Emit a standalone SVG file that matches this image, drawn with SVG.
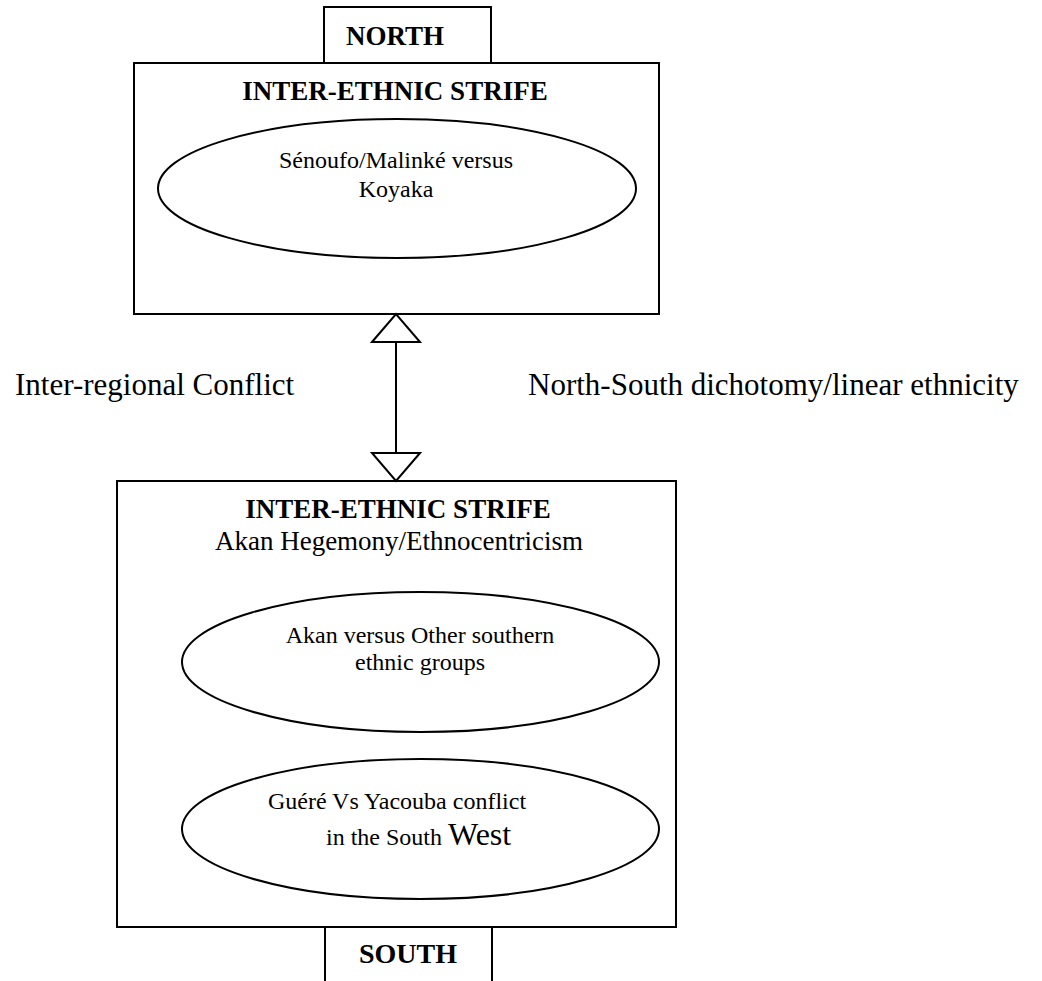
<svg xmlns="http://www.w3.org/2000/svg" width="1042" height="981" viewBox="0 0 1042 981">
  <style>
    .box { fill: #fff; stroke: #000; stroke-width: 2; }
    .ell { fill: #fff; stroke: #000; stroke-width: 2; }
    .t { font-family: "Liberation Serif", "Times New Roman", serif; fill: #000; }
    .b { font-weight: bold; font-size: 27px; }
    .r { font-size: 24px; }
    .side { font-size: 31px; }
    .conn { stroke: #000; stroke-width: 2; fill: none; }
  </style>
  <defs>
    <marker id="openTri" viewBox="-1 -26 31 52" refX="0" refY="0" markerWidth="31" markerHeight="52" markerUnits="userSpaceOnUse" orient="auto-start-reverse" overflow="visible">
      <path d="M0,-24 L28,0 L0,24 Z" fill="#fff" stroke="#000" stroke-width="2" stroke-linejoin="miter"/>
    </marker>
  </defs>
  <rect width="1042" height="981" fill="#fff"/>

  <g id="north-label">
    <rect class="box" x="324" y="7" width="167" height="56"/>
    <text class="t b" x="346" y="45">NORTH</text>
  </g>

  <g id="north-box">
    <rect class="box" x="134" y="63" width="525" height="251"/>
    <text class="t b" x="395" y="100" text-anchor="middle">INTER-ETHNIC STRIFE</text>
  </g>

  <g id="north-ellipse">
    <ellipse class="ell" cx="397" cy="188.5" rx="239" ry="69.5"/>
    <text class="t r" x="396" y="168" text-anchor="middle">Sénoufo/Malinké versus</text>
    <text class="t r" x="396" y="197" text-anchor="middle">Koyaka</text>
  </g>

  <g id="south-box">
    <rect class="box" x="117" y="481" width="559" height="446"/>
    <text class="t b" x="398" y="518" text-anchor="middle">INTER-ETHNIC STRIFE</text>
    <text class="t" x="399" y="550" text-anchor="middle" font-size="27">Akan Hegemony/Ethnocentricism</text>
  </g>

  <g id="akan-ellipse">
    <ellipse class="ell" cx="420.5" cy="662" rx="238.5" ry="70"/>
    <text class="t r" x="420" y="643" text-anchor="middle">Akan versus Other southern</text>
    <text class="t r" x="420" y="670" text-anchor="middle">ethnic groups</text>
  </g>

  <g id="guere-ellipse">
    <ellipse class="ell" cx="420.5" cy="829" rx="238.5" ry="70"/>
    <text class="t r" x="397" y="809" text-anchor="middle">Guéré Vs Yacouba conflict</text>
    <text class="t r" x="326" y="845">in the South <tspan font-size="32">West</tspan></text>
  </g>

  <g id="south-label">
    <rect class="box" x="325" y="927" width="167" height="70"/>
    <text class="t" x="359" y="963" font-weight="bold" font-size="28">SOUTH</text>
  </g>

  <g id="side-labels">
    <text class="t side" x="15" y="395">Inter-regional Conflict</text>
    <text class="t side" x="528" y="395">North-South dichotomy/linear ethnicity</text>
  </g>

  <g id="connectors">
    <line class="conn" x1="396" y1="342" x2="396" y2="453" marker-start="url(#openTri)" marker-end="url(#openTri)"/>
  </g>
</svg>
